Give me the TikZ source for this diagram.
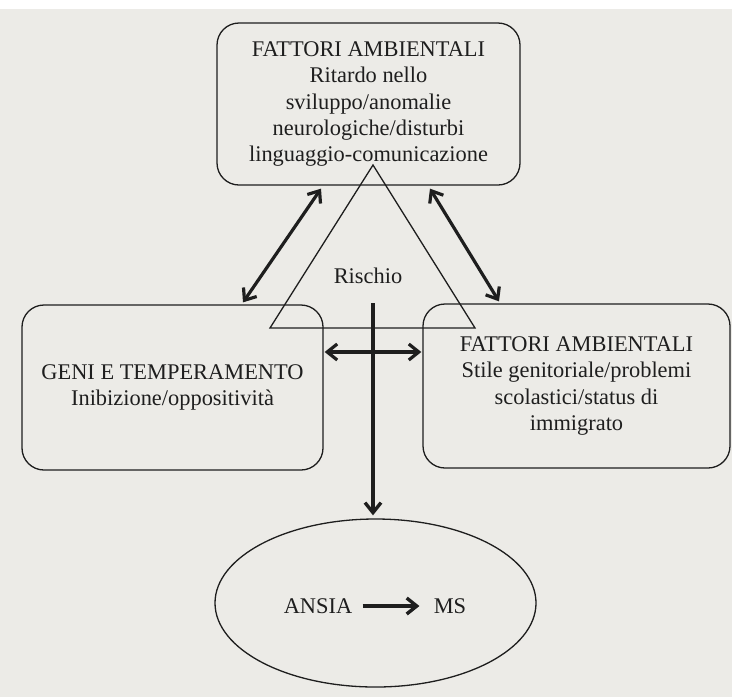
\documentclass[tikz,border=0pt]{standalone}
\usepackage{fontspec}
\setmainfont{Liberation Serif}
\usetikzlibrary{arrows.meta,calc,shapes.geometric}
\definecolor{paper}{RGB}{236,235,231}
\definecolor{ink}{RGB}{30,30,30}
\begin{document}
\begin{tikzpicture}[x=0.5pt,y=-0.5pt,
  box/.style={draw=ink, line width=0.65pt, rounded corners=11pt, align=center, text=ink,
    font=\fontsize{11.2}{13.1}\selectfont, inner sep=0pt},
  ell/.style={draw=ink, line width=0.65pt, ellipse, inner sep=0pt},
  lbl/.style={text=ink, font=\fontsize{11.2}{13.1}\selectfont, inner sep=1pt},
  tip/.style={Straight Barb[length=5pt,width=8pt]},
  dbl/.style={draw=ink, line width=1.6pt, {Straight Barb[length=5pt,width=8pt]}-{Straight Barb[length=5pt,width=8pt]}},
  sgl/.style={draw=ink, line width=1.7pt, -{Straight Barb[length=5pt,width=8pt]}}
]
\fill[paper] (0,0) rectangle (732,697);
\fill[white] (0,0) rectangle (732,9);
\useasboundingbox (0,0) rectangle (732,697);

\node[box, minimum width=151.5pt, minimum height=81pt] (top) at (368.5,104)
  {FATTORI AMBIENTALI\\Ritardo nello\\sviluppo/anomalie\\neurologiche/disturbi\\linguaggio-comunicazione};
\node[box, minimum width=150.5pt, minimum height=82.5pt] (left) at (172.5,387.5)
  {GENI E TEMPERAMENTO\\Inibizione/oppositività};
\node[box, minimum width=153.5pt, minimum height=82pt] (right) at (576.5,386)
  {FATTORI AMBIENTALI\\Stile genitoriale/problemi\\scolastici/status di\\immigrato};
\node[ell, minimum width=160.5pt, minimum height=84pt] (ansia) at (375.5,603) {};

% triangle
\coordinate (tA) at (373,165);
\coordinate (tB) at (270,328);
\coordinate (tC) at (475,328);
\draw[ink, line width=0.65pt] (tA) -- (tB) -- (tC) -- cycle;
\node[lbl] (risk) at (368,276) {Rischio};

% arrows
\draw[dbl] ($(top.south)+(-47.5,3)$) -- ($(left.north)+(70.5,-2)$);
\draw[dbl] ($(top.south)+(61.5,3)$) -- ($(right.north)+(-77.5,-2)$);
\draw[dbl] ($(left.east)+(1,-35.5)$) -- ($(right.west)+(-1,-34)$);
\coordinate (vstart) at (373,303);
\draw[sgl] (vstart) -- ($(ansia.north)+(-2.5,-3)$);

\node[lbl] (an) at (318,606) {ANSIA};
\node[lbl] (ms) at (450,606) {MS};
\draw[sgl] ($(an.east)+(8,0)$) -- ($(ms.west)+(-12,0)$);
\end{tikzpicture}
\end{document}
